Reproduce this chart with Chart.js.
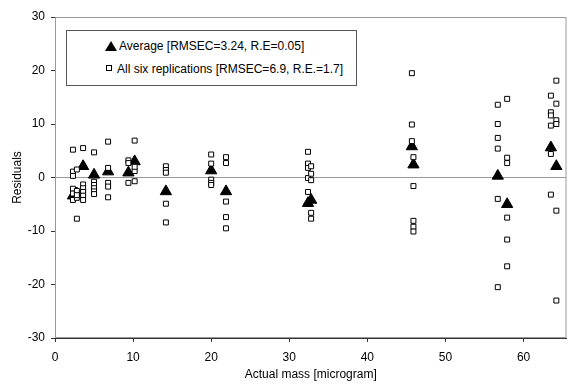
<!DOCTYPE html>
<html>
<head>
<meta charset="utf-8">
<script src="https://cdn.jsdelivr.net/npm/chart.js@4"></script>
<style>
  html, body { margin: 0; padding: 0; background: #fff; }
  #wrap { position: relative; width: 574px; height: 386px; }
  #legend {
    position: absolute; left: 66px; top: 30px; width: 291px; height: 56px;
    border: 1px solid #555; box-sizing: border-box; background: #fff;
    font-family: "Liberation Sans", Arial, sans-serif; font-size: 12px; color: #000;
  }
  #legend .row { position: absolute; left: 38px; white-space: nowrap; line-height: 14px; }
  #legend .tri { display: inline-block; width: 0; height: 0; border-left: 6px solid transparent;
    border-right: 6px solid transparent; border-bottom: 10px solid #000; margin-right: 2px; vertical-align: -1px; }
  #legend .sq { display: inline-block; width: 4px; height: 4px; border: 1px solid #000; background: #fff;
    margin-right: 5px; margin-left: 2px; vertical-align: 2px; }
</style>
</head>
<body>
<div id="wrap">
  <canvas id="c" width="574" height="386"></canvas>
  <div id="legend">
    <div class="row" id="leg1" style="top:8px"><span class="tri"></span><span id="legText1"></span></div>
    <div class="row" id="leg2" style="top:31px; left:37px"><span class="sq"></span><span id="legText2"></span></div>
  </div>
</div>
<script>
// ---- data ----
const avgLabel = "Average [RMSEC=3.24, R.E=0.05]";
const repLabel = "All six replications [RMSEC=6.9, R.E.=1.7]";
const xTitle = "Actual mass [microgram]";
const yTitle = "Residuals";

const avgMass = [2.3, 2.8, 3.6, 5.0, 6.8, 9.4, 10.2, 14.2, 20.0, 21.9, 32.4, 32.8, 45.7, 45.9, 56.7, 57.9, 63.5, 64.2];
const avgResidual = [-3.4, -3.0, 2.1, 0.5, 1.1, 0.9, 3.0, -2.6, 1.3, -2.6, -4.8, -4.2, 5.8, 2.4, 0.3, -5.0, 5.6, 2.1];

const repMass = [
  2.3, 2.3, 2.3, 2.3, 2.3, 2.3,
  2.8, 2.8, 2.8, 2.8, 2.8,
  3.6, 3.6, 3.6, 3.6, 3.6, 3.6,
  5.0, 5.0, 5.0, 5.0, 5.0, 5.0,
  6.8, 6.8, 6.8, 6.8, 6.8,
  9.4, 9.4, 9.4,
  10.2, 10.2, 10.2, 10.2,
  14.2, 14.2, 14.2, 14.2, 14.2,
  20.0, 20.0, 20.0, 20.0, 20.0,
  21.9, 21.9, 21.9, 21.9, 21.9,
  32.4, 32.4, 32.4, 32.4, 32.4,
  32.8, 32.8, 32.8, 32.8, 32.8,
  45.7, 45.7, 45.7,
  45.9, 45.9, 45.9, 45.9, 45.9,
  56.7, 56.7, 56.7, 56.7, 56.7, 56.7,
  57.9, 57.9, 57.9, 57.9, 57.9, 57.9,
  63.5, 63.5, 63.5, 63.5, 63.5, 63.5,
  64.2, 64.2, 64.2, 64.2, 64.2, 64.2
];
const repResidual = [
  5.2, 1.1, 0.3, -2.1, -3.0, -4.2,
  1.5, -2.5, -3.8, -7.7, -3.3,
  5.5, -1.3, -2.0, -2.7, -3.4, -4.2,
  4.7, -0.8, -1.4, -2.0, -2.6, -3.1,
  6.7, 1.8, -1.0, -1.7, -3.7,
  3.2, 2.7, -1.0,
  6.9, 1.2, -0.7, 2.0,
  2.1, 1.4, 0.9, -4.9, -8.4,
  4.3, 2.6, -0.4, -1.0, -1.4,
  3.8, 2.7, -4.5, -7.4, -9.5,
  4.8, 2.6, 1.8, -0.1, -2.7,
  2.1, 0.7, -0.5, -6.6, -7.7,
  19.5, 9.9, 6.8,
  3.8, -1.6, -8.1, -9.2, -10.1,
  13.6, 10.0, 7.4, 5.4, -4.0, -20.5,
  14.7, 3.7, 2.7, -7.5, -11.6, -16.6,
  15.3, 12.2, 11.6, 9.7, 4.4, -3.2,
  18.1, 13.8, 10.7, 10.0, -6.2, -23.0
];

const xMin = 0, xMax = 65.5, xStep = 10;
const yMin = -30, yMax = 30, yStep = 10;

document.getElementById('legText1').textContent = avgLabel;
document.getElementById('legText2').textContent = repLabel;

const toPts = (xs, ys) => xs.map((x, i) => ({ x: x, y: ys[i] }));
const FONT = "'Liberation Sans', Arial, sans-serif";

const framePlugin = {
  id: 'frame',
  beforeDatasetsDraw(chart) {
    const a = chart.chartArea, ctx = chart.ctx;
    ctx.save();
    ctx.strokeStyle = '#9a9a9a';
    ctx.lineWidth = 1;
    ctx.strokeRect(a.left + 0.5, a.top + 0.5, a.right - a.left - 1, a.bottom - a.top - 1);
    ctx.restore();
  }
};

new Chart(document.getElementById('c'), {
  type: 'scatter',
  data: {
    datasets: [
      {
        label: repLabel,
        data: toPts(repMass, repResidual),
        pointStyle: 'rect',
        pointRadius: 3.5,
        pointBackgroundColor: '#fff',
        pointBorderColor: '#000',
        pointBorderWidth: 1
      },
      {
        label: avgLabel,
        data: toPts(avgMass, avgResidual),
        pointStyle: 'triangle',
        pointRadius: 6.5,
        pointBackgroundColor: '#000',
        pointBorderColor: '#000',
        pointBorderWidth: 1
      }
    ]
  },
  options: {
    responsive: false,
    animation: false,
    layout: { padding: { left: 6, top: 17, right: 7, bottom: 0 } },
    plugins: { legend: { display: false }, tooltip: { enabled: false } },
    scales: {
      x: {
        type: 'linear', min: xMin, max: xMax,
        afterBuildTicks: s => { s.ticks = s.ticks.filter(t => t.value % xStep === 0); },
        afterFit: s => { s.height = 48; },
        ticks: { stepSize: xStep, color: '#000', font: { family: FONT, size: 12 }, padding: 8 },
        grid: { drawOnChartArea: false, drawTicks: true, tickLength: 4, tickColor: '#333' },
        border: { display: true, color: '#333' },
        title: { display: true, text: xTitle, color: '#000', font: { family: FONT, size: 12 }, padding: { top: 6 } }
      },
      y: {
        type: 'linear', min: yMin, max: yMax,
        afterFit: s => { s.width = 49; },
        ticks: { stepSize: yStep, color: '#000', font: { family: FONT, size: 12 }, padding: 6 },
        grid: {
          drawTicks: true, tickLength: 4, tickColor: '#333',
          color: c => (c.tick && c.tick.value === 0) ? '#999' : 'rgba(0,0,0,0)'
        },
        border: { display: true, color: '#333' },
        title: { display: true, text: yTitle, color: '#000', font: { family: FONT, size: 12 }, padding: { bottom: 0 } }
      }
    }
  },
  plugins: [framePlugin]
});
</script>
</body>
</html>
